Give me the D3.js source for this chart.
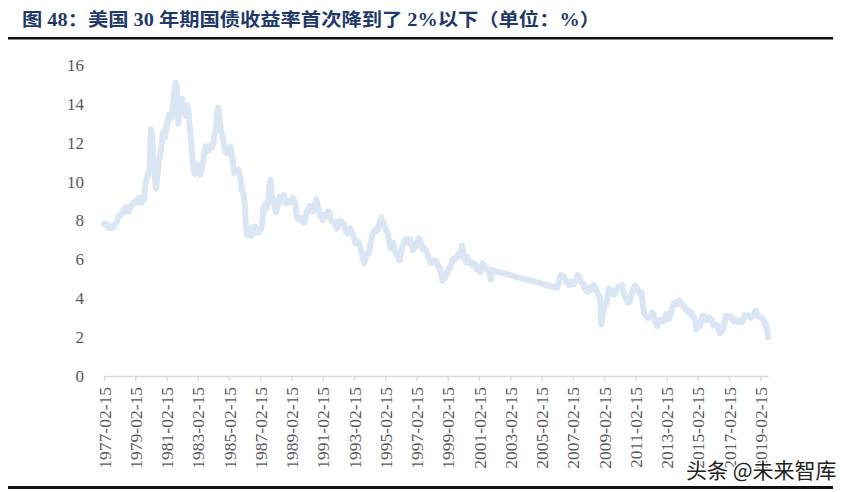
<!DOCTYPE html>
<head>
  <meta charset="utf-8">
  <script src="https://d3js.org/d3.v7.min.js"></script>
  <style>
    body { margin:0; background:white; }
    svg { background: white; display:block; }
  </style>
</head>

<body>
  <script>
    var width = 858;
    var height = 492;

    // monthly 30y yields, Feb 1977 .. Feb 2002
    var start1 = new Date(1977, 1, 15);
    var yields1 = [
      7.85, 7.80, 7.73, 7.78, 7.62, 7.60, 7.68, 7.64, 7.77, 7.85, 7.94,
      8.18, 8.25, 8.28, 8.36, 8.46, 8.56, 8.69, 8.45, 8.47, 8.69, 8.75, 8.88,
      8.94, 8.91, 9.03, 9.08, 9.19, 8.92, 8.93, 8.98, 9.14, 9.91, 10.18, 10.40,
      10.60, 12.70, 12.40, 11.20, 10.20, 9.65, 10.24, 11.00, 11.34, 11.75, 12.44, 12.60,
      12.29, 12.98, 12.94, 13.46, 13.46, 13.27, 13.92, 14.60, 15.10, 14.90, 13.00, 13.54,
      14.14, 14.25, 13.62, 13.53, 13.37, 13.92, 13.55, 12.77, 12.07, 11.17, 10.54, 10.40,
      10.63, 10.88, 10.63, 10.35, 10.53, 10.93, 11.40, 11.82, 11.63, 11.58, 11.75, 11.88,
      11.75, 11.95, 12.38, 12.65, 13.55, 13.80, 13.21, 12.54, 12.29, 11.98, 11.56, 11.52,
      11.45, 11.47, 11.81, 11.47, 11.05, 10.44, 10.50, 10.56, 10.61, 10.50, 10.06, 9.54,
      9.40, 8.93, 7.80, 7.25, 7.52, 7.57, 7.20, 7.33, 7.62, 7.70, 7.52, 7.37,
      7.39, 7.54, 7.55, 8.25, 8.78, 8.57, 8.64, 8.97, 9.70, 10.10, 8.95, 9.12,
      8.83, 8.43, 8.63, 8.95, 9.23, 9.00, 9.14, 9.32, 9.06, 8.89, 9.02, 9.01,
      8.93, 9.01, 9.17, 9.03, 8.83, 8.27, 8.08, 8.12, 8.15, 8.00, 7.90, 7.90,
      8.26, 8.50, 8.56, 8.76, 8.73, 8.46, 8.50, 8.86, 9.10, 8.86, 8.54, 8.24,
      8.27, 8.03, 8.29, 8.21, 8.27, 8.47, 8.45, 8.14, 7.95, 7.93, 7.92, 7.70,
      7.58, 7.85, 7.97, 7.96, 7.89, 7.84, 7.60, 7.39, 7.34, 7.53, 7.61, 7.44,
      7.34, 7.09, 6.82, 6.85, 6.92, 6.81, 6.63, 6.32, 6.00, 5.80, 6.21, 6.25,
      6.29, 6.49, 6.91, 7.27, 7.41, 7.40, 7.58, 7.49, 7.71, 7.94, 8.15, 7.87,
      7.85, 7.61, 7.45, 7.36, 6.95, 6.57, 6.72, 6.86, 6.55, 6.37, 6.26, 6.06,
      5.95, 6.24, 6.60, 6.79, 6.93, 7.06, 7.03, 6.84, 7.03, 6.81, 6.48, 6.55,
      6.83, 6.69, 6.93, 7.09, 6.94, 6.77, 6.51, 6.58, 6.50, 6.33, 6.11, 5.99,
      5.81, 5.89, 5.95, 5.92, 5.93, 5.70, 5.68, 5.54, 5.20, 4.90, 5.25, 5.06,
      5.16, 5.37, 5.58, 5.55, 5.81, 6.04, 5.98, 6.07, 6.07, 6.26, 6.15, 6.35,
      6.70, 6.23, 6.05, 5.85, 6.15, 5.93, 5.85, 5.72, 5.83, 5.80, 5.78, 5.49,
      5.54, 5.45, 5.34, 5.65, 5.78, 5.67, 5.61, 5.48, 5.48, 5.32, 4.95, 5.48,
      5.45, 5.40
    ];

    // monthly, Feb 2006 .. Aug 2019 (no 30y issues in between)
    var start2 = new Date(2006, 1, 15);
    var yields2 = [
      4.54, 4.73, 5.06, 5.20, 5.15, 5.13, 5.00, 4.85, 4.85, 4.69, 4.68,
      4.85, 4.82, 4.72, 4.87, 4.90, 5.20, 5.11, 4.93, 4.79, 4.77, 4.52, 4.53,
      4.33, 4.52, 4.39, 4.44, 4.60, 4.69, 4.57, 4.50, 4.27, 4.17, 4.00, 2.65,
      3.13, 3.59, 3.64, 3.76, 4.23, 4.52, 4.41, 4.37, 4.19, 4.19, 4.31, 4.49,
      4.60, 4.62, 4.64, 4.69, 4.29, 4.13, 3.99, 3.80, 3.77, 3.87, 4.19, 4.42,
      4.52, 4.65, 4.51, 4.50, 4.29, 4.23, 4.27, 3.65, 3.18, 3.13, 3.02, 2.98,
      3.03, 3.11, 3.28, 3.18, 2.93, 2.70, 2.55, 2.77, 2.88, 2.90, 2.80, 2.88,
      3.08, 3.17, 3.16, 2.93, 3.11, 3.40, 3.61, 3.76, 3.79, 3.68, 3.80, 3.89,
      3.77, 3.66, 3.62, 3.52, 3.39, 3.42, 3.33, 3.20, 3.26, 3.04, 3.04, 2.83,
      2.40, 2.57, 2.63, 2.59, 2.96, 3.11, 3.07, 2.86, 2.95, 2.89, 3.03, 2.97,
      2.86, 2.62, 2.68, 2.62, 2.63, 2.45, 2.20, 2.26, 2.35, 2.50, 2.86, 3.11,
      3.02, 3.03, 3.08, 2.94, 2.96, 2.80, 2.88, 2.80, 2.78, 2.88, 2.80, 2.77,
      2.88, 3.13, 3.09, 3.07, 3.13, 3.05, 2.99, 3.04, 3.15, 3.34, 3.36, 3.10,
      3.04, 3.02, 2.98, 2.94, 2.82, 2.57, 2.57, 2.00
    ];

    var yTicks = [0, 2, 4, 6, 8, 10, 12, 14, 16];
    var xTickYears = d3.range(1977, 2020, 2);

    var titleText = "图 48：美国 30 年期国债收益率首次降到了 2%以下（单位：%）";
    var sourceText = "头条 @未来智库";

    function monthsFrom(start, vals) {
      return vals.map(function(v, i){
        return { date: d3.timeMonth.offset(start, i), value: v };
      });
    }
    var series = monthsFrom(start1, yields1).concat(monthsFrom(start2, yields2));

    var svg = d3.select("body").append("svg")
      .attr("width", width)
      .attr("height", height);

    // title + rules
    svg.append("text")
      .attr("x", 22).attr("y", 26)
      .attr("font-family", "'Liberation Serif','Noto Sans CJK SC',serif")
      .attr("font-weight", "bold")
      .attr("font-size", 18)
      .attr("fill", "#1f3a6a")
      .attr("textLength", 578)
      .attr("lengthAdjust", "spacingAndGlyphs")
      .text(titleText);

    svg.append("rect").attr("x", 8).attr("y", 37).attr("width", 825).attr("height", 2.5).attr("fill", "#111");
    svg.append("rect").attr("x", 8).attr("y", 486).attr("width", 825).attr("height", 3).attr("fill", "#111");

    var x = d3.scaleTime()
      .domain([new Date(1977, 1, 15), new Date(2019, 7, 15)])
      .range([104, 768]);

    var y = d3.scaleLinear()
      .domain([0, 16])
      .range([376, 65]);

    // y labels, no axis line
    var yAxis = d3.axisLeft(y).tickValues(yTicks).tickSize(0).tickPadding(0);
    var yg = svg.append("g")
      .attr("transform", "translate(84,0)")
      .call(yAxis);
    yg.select(".domain").remove();
    yg.selectAll("text")
      .attr("font-family", "'Liberation Serif',serif")
      .attr("font-size", 17)
      .attr("fill", "#595959");

    // x axis
    var xTicks = xTickYears.map(function(yr){ return new Date(yr, 1, 15); });
    var xAxis = d3.axisBottom(x)
      .tickValues(xTicks)
      .tickSize(5)
      .tickSizeOuter(0)
      .tickFormat(d3.timeFormat("%Y-%m-%d"));
    var xg = svg.append("g")
      .attr("transform", "translate(0,376)")
      .call(xAxis);
    xg.select(".domain").attr("stroke", "#d9d9d9").attr("stroke-width", 1.5);
    xg.selectAll(".tick line").attr("stroke", "#d9d9d9").attr("stroke-width", 1.5);
    xg.selectAll("text")
      .attr("font-family", "'Liberation Serif',serif")
      .attr("font-size", 17.5)
      .attr("fill", "#595959")
      .attr("text-anchor", "end")
      .attr("transform", "rotate(-90)")
      .attr("x", -11)
      .attr("y", 0)
      .attr("dy", "0.35em");

    // the yield line
    var line = d3.line()
      .x(function(d){ return x(d.date); })
      .y(function(d){ return y(d.value); });

    svg.append("path")
      .datum(series)
      .attr("d", line)
      .attr("fill", "none")
      .attr("stroke", "#dae6f4")
      .attr("stroke-width", 6)
      .attr("stroke-linejoin", "round")
      .attr("stroke-linecap", "round");

    // watermark
    svg.append("text")
      .attr("x", 686).attr("y", 478)
      .attr("font-family", "'Noto Sans CJK SC',sans-serif")
      .attr("font-size", 21)
      .attr("fill", "#222")
      .attr("stroke", "white")
      .attr("stroke-width", 3)
      .attr("paint-order", "stroke")
      .text(sourceText);
  </script>
</body>
